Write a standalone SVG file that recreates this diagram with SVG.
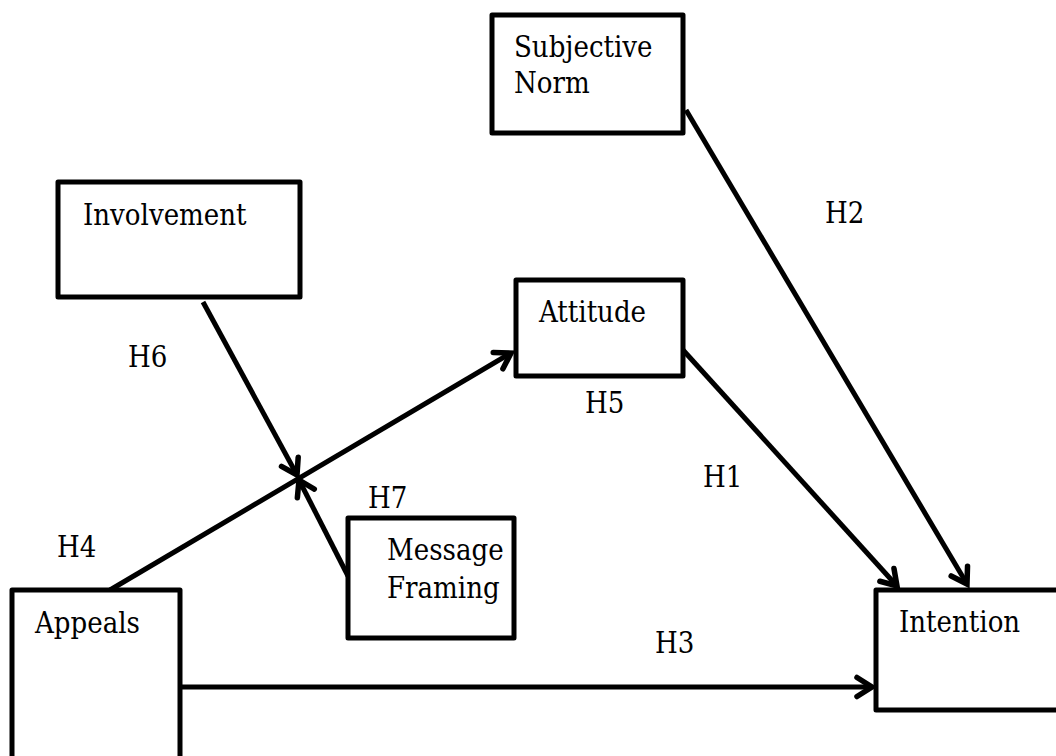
<svg xmlns="http://www.w3.org/2000/svg" width="1056" height="756" viewBox="0 0 1056 756">
<style>
.box{fill:#fff;stroke:#000;stroke-width:5;stroke-linejoin:round}
.lbl{font-family:"DejaVu Serif Condensed","DejaVu Serif","Liberation Serif",serif;font-stretch:condensed;font-size:29px;fill:#000}
.ln{stroke:#000;stroke-width:5;fill:none}
</style>
<defs>
<marker id="arr" markerUnits="userSpaceOnUse" viewBox="-20 -13 24 26" markerWidth="24" markerHeight="26" refX="0" refY="0" orient="auto" overflow="visible">
<path d="M-15,-9.5 L0,0 L-15,9.5" fill="none" stroke="#000" stroke-width="5.5" stroke-linecap="round" stroke-linejoin="miter"/>
</marker>
</defs>
<rect width="1056" height="756" fill="#fff"/>
<g id="connectors">
<line class="ln" x1="686" y1="110" x2="967" y2="584" marker-end="url(#arr)"/>
<line class="ln" x1="683" y1="350" x2="897" y2="586" marker-end="url(#arr)"/>
<line class="ln" x1="203" y1="302" x2="297" y2="475" marker-end="url(#arr)"/>
<line class="ln" x1="110" y1="590" x2="511" y2="353" marker-end="url(#arr)"/>
<line class="ln" x1="348" y1="576" x2="299" y2="480" marker-end="url(#arr)"/>
<line class="ln" x1="180" y1="687" x2="872" y2="687" marker-end="url(#arr)"/>
</g>
<g id="subjective-norm">
<rect class="box" x="492" y="15" width="191" height="118"/>
<text class="lbl" x="514" y="57">Subjective</text>
<text class="lbl" x="514" y="93">Norm</text>
</g>
<g id="involvement">
<rect class="box" x="58" y="182" width="242" height="115"/>
<text class="lbl" x="83" y="225">Involvement</text>
</g>
<g id="attitude">
<rect class="box" x="516" y="280" width="167" height="96"/>
<text class="lbl" x="539" y="322">Attitude</text>
</g>
<g id="message-framing">
<rect class="box" x="348" y="518" width="166" height="120"/>
<text class="lbl" x="387" y="560">Message</text>
<text class="lbl" x="387" y="598">Framing</text>
</g>
<g id="appeals">
<rect class="box" x="12" y="590" width="168" height="180"/>
<text class="lbl" x="35" y="633">Appeals</text>
</g>
<g id="intention">
<rect class="box" x="876" y="590" width="190" height="120"/>
<text class="lbl" x="899" y="632">Intention</text>
</g>
<g id="labels">
<text class="lbl" x="825" y="223">H2</text>
<text class="lbl" x="128" y="367">H6</text>
<text class="lbl" x="585" y="413">H5</text>
<text class="lbl" x="703" y="487">H1</text>
<text class="lbl" x="57" y="557">H4</text>
<text class="lbl" x="655" y="653">H3</text>
<text class="lbl" x="368" y="508">H7</text>
</g>
</svg>
